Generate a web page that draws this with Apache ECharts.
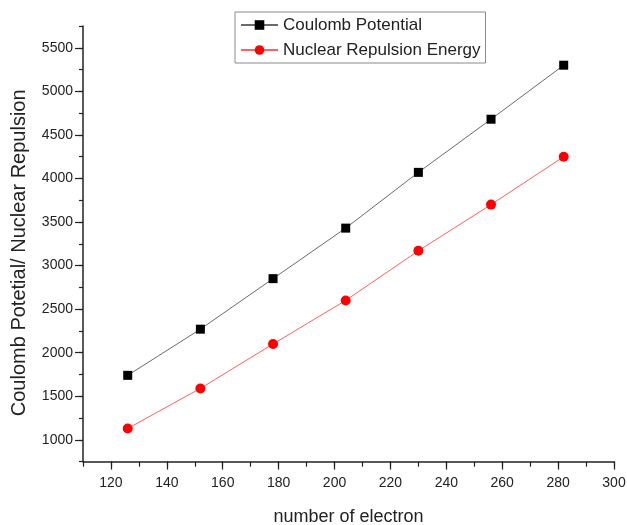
<!DOCTYPE html>
<html>
<head>
<meta charset="utf-8">
<script src="https://cdn.jsdelivr.net/npm/echarts@6/dist/echarts.min.js"></script>
<style>html,body{margin:0;padding:0;background:#fff;}#c{width:627px;height:525px;}</style>
</head>
<body>
<div id="c"></div>
<script>
// ---- data ----
const electrons = [126, 152, 178, 204, 230, 256, 282];
const coulomb   = [1740, 2270, 2850, 3430, 4070, 4680, 5300];
const nuclear   = [1130, 1590, 2100, 2600, 3170, 3700, 4250];
const seriesNames = ['Coulomb Potential', 'Nuclear Repulsion Energy'];
const xTitle = 'number of electron';
const yTitle = 'Coulomb Potetial/ Nuclear Repulsion';
// axis ranges: [min, max, minorStep, labelMin, labelMax, labelStep]
const xRange = [110, 300, 10, 120, 300, 20];
const yRange = [750, 5750, 250, 1000, 5500, 500];

// ---- layout ----
const W = 627, H = 525;
const L = 83, R = 13, T = 26, B = 63.4;
const pxX = (W - L - R) / (xRange[1] - xRange[0]);
const pxY = (H - T - B) / (yRange[1] - yRange[0]);
const offX = (xRange[3] - xRange[0]) * pxX;
const offYtop = (yRange[1] - yRange[4]) * pxY;
const offYbot = (yRange[3] - yRange[0]) * pxY;
const FONT = '"Liberation Sans", Arial, sans-serif';
const txt = '#222';

const chart = echarts.init(document.getElementById('c'), null, {renderer: 'canvas'});
chart.setOption({
  backgroundColor: '#fff',
  animation: false,
  textStyle: {fontFamily: FONT},
  grid: [
    {left: L, right: R, top: T, bottom: B, outerBoundsMode: 'none', containLabel: false},
    {left: L + offX, right: R, top: T + offYtop, bottom: B + offYbot, outerBoundsMode: 'none', containLabel: false}
  ],
  legend: {
    orient: 'vertical',
    left: 235, top: 12,
    padding: [4, 5, 4, 5],
    itemWidth: 37, itemHeight: 12, itemGap: 7,
    borderColor: '#8a8a8a', borderWidth: 1,
    textStyle: {fontSize: 17, color: txt, fontFamily: FONT, lineHeight: 18},
    data: seriesNames
  },
  xAxis: [
    {
      type: 'value', gridIndex: 0,
      min: xRange[0], max: xRange[1], interval: xRange[2],
      name: xTitle, nameLocation: 'middle', nameGap: 46,
      nameTextStyle: {fontSize: 18, color: txt, fontFamily: FONT},
      axisLine: {show: true, lineStyle: {color: '#222', width: 1.5}},
      axisTick: {show: true, length: 5, lineStyle: {color: '#222', width: 1.2}},
      axisLabel: {show: false},
      splitLine: {show: false}
    },
    {
      type: 'value', gridIndex: 1,
      min: xRange[3], max: xRange[4], interval: xRange[5],
      offset: offYbot,
      axisLine: {show: false},
      axisTick: {show: true, length: 8, lineStyle: {color: '#222', width: 1.2}},
      axisLabel: {show: true, fontSize: 14, color: txt, margin: 15, fontFamily: FONT,
                  formatter: v => String(v)},
      splitLine: {show: false}
    }
  ],
  yAxis: [
    {
      type: 'value', gridIndex: 0,
      min: yRange[0], max: yRange[1], interval: yRange[2],
      name: yTitle, nameLocation: 'middle', nameGap: 54,
      nameTextStyle: {fontSize: 20, color: txt, fontFamily: FONT, padding: [0, 18, 0, 0]},
      axisLine: {show: true, lineStyle: {color: '#222', width: 1.5}},
      axisTick: {show: true, length: 4, lineStyle: {color: '#222', width: 1.2}},
      axisLabel: {show: false},
      splitLine: {show: false}
    },
    {
      type: 'value', gridIndex: 1,
      min: yRange[3], max: yRange[4], interval: yRange[5],
      offset: offX,
      axisLine: {show: false},
      axisTick: {show: true, length: 8, lineStyle: {color: '#222', width: 1.2}},
      axisLabel: {show: true, fontSize: 14, color: txt, margin: 10, fontFamily: FONT,
                  formatter: v => String(v)},
      splitLine: {show: false}
    }
  ],
  series: [
    {
      name: seriesNames[0], type: 'line',
      xAxisIndex: 0, yAxisIndex: 0,
      data: electrons.map((x, i) => [x, coulomb[i]]),
      symbol: 'rect', symbolSize: 9,
      lineStyle: {color: '#6a6a6a', width: 1},
      itemStyle: {color: '#000'}
    },
    {
      name: seriesNames[1], type: 'line',
      xAxisIndex: 0, yAxisIndex: 0,
      data: electrons.map((x, i) => [x, nuclear[i]]),
      symbol: 'circle', symbolSize: 10,
      lineStyle: {color: '#ff6060', width: 1},
      itemStyle: {color: '#ff0000'}
    }
  ]
});
</script>
</body>
</html>
